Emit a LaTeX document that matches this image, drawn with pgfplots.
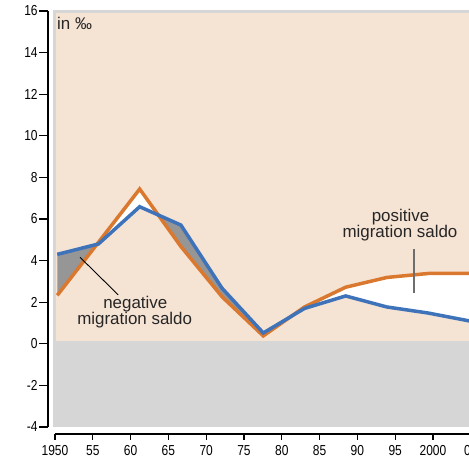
\documentclass[border=0pt]{standalone}
\usepackage{fontspec}
\setmainfont{Liberation Sans}
\newfontfamily\condensed[FakeStretch=0.83]{Liberation Sans}
\usepackage{pgfplots}
\pgfplotsset{compat=1.18}
\definecolor{bgbeige}{RGB}{245,227,212}
\definecolor{bggray}{RGB}{214,214,214}
\definecolor{saldogray}{RGB}{150,150,150}
\definecolor{lineblue}{RGB}{62,114,185}
\definecolor{lineorange}{RGB}{217,120,46}
\definecolor{leadgray}{RGB}{110,110,110}

\begin{document}
\begin{tikzpicture}
\path[use as bounding box] (-55bp,-33bp) rectangle (414bp,427bp);
\begin{axis}[
    at={(0,0)}, anchor=south west,
    scale only axis, width=415.8bp, height=416bp,
    clip=false,
    xmin=1950, xmax=2005, ymin=-4, ymax=16,
    axis x line*=bottom, axis y line*=left,
    axis x line shift=7bp, axis y line shift=7bp,
    axis line style={line width=1.1bp, black, -},
    tick align=outside,
    xtick={1950,1955,...,2005},
    xticklabels={1950,55,60,65,70,75,80,85,90,95,2000,05},
    ytick={-4,-2,...,16},
    yticklabels={-4,-2,0,2,4,6,8,10,12,14,16},
    tick style={line width=1.1bp, black},
    major tick length=8.7bp,
    xtick style={/pgfplots/major tick length=5.5bp},
    tick label style={font=\condensed\fontsize{14.5}{14.5}\selectfont},
    yticklabel style={inner sep=1.5bp},
    xticklabel style={inner sep=0pt, yshift=-3bp},
  ]
  \fill[bggray] (1949.8,-4) rectangle (2005,16.05);
  \fill[bgbeige] (1950.13,0.13) rectangle (2005,15.92);

  % negative saldo (blue above orange)
  \addplot[fill=saldogray, draw=none] coordinates {
    (1950.3,4.30) (1955.54,4.78) (1950.3,2.33)} -- cycle;
  \addplot[fill=saldogray, draw=none] coordinates {
    (1963.66,6.19) (1966.65,5.71) (1972.1,2.67) (1977.55,0.52) (1981.18,1.31)
    (1977.55,0.38) (1972.1,2.26) (1966.65,4.68)} -- cycle;
  % positive saldo (orange above blue)
  \addplot[fill=white, draw=none] coordinates {
    (1955.54,4.78) (1955.75,4.88) (1961.2,7.44) (1963.66,6.19) (1961.2,6.59) (1955.75,4.80)} -- cycle;
  \addplot[fill=white, draw=none] coordinates {
    (1981.18,1.31) (1983.0,1.77) (1988.45,2.72) (1993.9,3.19) (1999.35,3.38) (2004.8,3.38)
    (2004.8,1.10) (1999.35,1.48) (1993.9,1.77) (1988.45,2.30) (1983.0,1.70)} -- cycle;

  \addplot[draw=lineorange, line width=3.5bp] coordinates {
    (1950.3,2.33) (1955.75,4.88) (1961.2,7.44) (1966.65,4.68) (1972.1,2.26) (1977.55,0.38)
    (1983.0,1.77) (1988.45,2.72) (1993.9,3.19) (1999.35,3.38) (2004.8,3.38)
  };
  \addplot[draw=lineblue, line width=3.5bp] coordinates {
    (1950.3,4.30) (1955.75,4.80) (1961.2,6.59) (1966.65,5.71) (1972.1,2.67) (1977.55,0.52)
    (1983.0,1.70) (1988.45,2.30) (1993.9,1.77) (1999.35,1.48) (2004.8,1.10)
  };

  \draw[black, line width=0.9bp] (1953.31,4.16) -- (1958.37,2.35);
  \draw[leadgray, line width=1.3bp] (1997.49,4.54) -- (1997.49,2.43);

  \node[anchor=base west, inner sep=0, font=\fontsize{17}{17}\selectfont, text=black!85] at (1950.26,15.09) {in ‰};
  \node[anchor=base, inner sep=0, font=\fontsize{17}{17}\selectfont, text=black!85] at (1960.62,1.71) {negative};
  \node[anchor=base, inner sep=0, font=\fontsize{17}{17}\selectfont, text=black!85] at (1960.54,0.94) {migration saldo};
  \node[anchor=base, inner sep=0, font=\fontsize{17}{17}\selectfont, text=black!85] at (1995.70,5.87) {positive};
  \node[anchor=base, inner sep=0, font=\fontsize{17}{17}\selectfont, text=black!85] at (1995.63,5.12) {migration saldo};
\end{axis}
\end{tikzpicture}
\end{document}
